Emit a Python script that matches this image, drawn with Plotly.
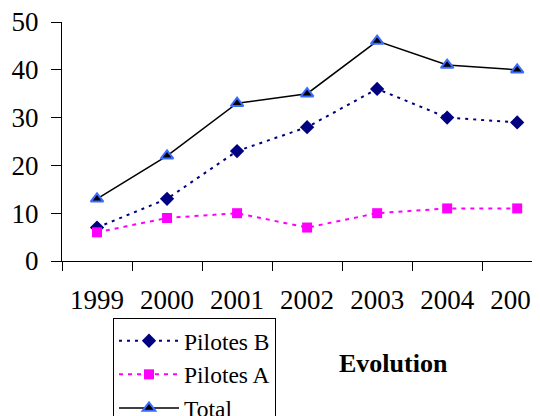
import plotly.graph_objects as go

years = ["1999", "2000", "2001", "2002", "2003", "2004", "2005"]
pilotes_b = [7, 13, 23, 28, 36, 30, 29]
pilotes_a = [6, 9, 10, 7, 10, 11, 11]
total = [13, 22, 33, 35, 46, 41, 40]

FONT = "Liberation Serif"

# page has an 8px body margin: plot area targets page x 62..548, y 22..261
PW = 486.0
PH = 239.0

fig = go.Figure()
fig.add_trace(go.Scatter(
    x=years, y=pilotes_b, name="Pilotes B", mode="lines+markers",
    line=dict(color="#000080", width=2, dash="3px,5px"),
    marker=dict(symbol="diamond", size=11, color="#000080"),
))
fig.add_trace(go.Scatter(
    x=years, y=pilotes_a, name="Pilotes A", mode="lines+markers",
    line=dict(color="#FF00FF", width=2, dash="4px,5px"),
    marker=dict(symbol="square", size=10, color="#FF00FF"),
))
fig.add_trace(go.Scatter(
    x=years, y=total, name="Total", mode="lines+markers",
    line=dict(color="#000000", width=1.5),
    marker=dict(symbol="triangle-up", size=11, color="#000000",
                line=dict(color="#3A6BFF", width=2)),
))

fig.update_layout(
    width=540, height=416,
    margin=dict(l=54, r=0, t=14, b=163, autoexpand=False),
    paper_bgcolor="white", plot_bgcolor="white",
    font=dict(family=FONT, color="black", size=26),
    showlegend=True,
    legend=dict(
        x=(113 - 62) / PW, y=(261 - 318) / PH, xanchor="left", yanchor="top",
        bordercolor="black", borderwidth=1,
        font=dict(family=FONT, size=23.5, color="black"),
        tracegroupgap=0, itemwidth=60,
    ),
    xaxis=dict(
        type="category", range=[-0.5, 6.44],
        showline=True, linecolor="black", linewidth=1,
        ticks="outside", tickson="boundaries", ticklen=9, tickcolor="black",
        showgrid=False, zeroline=False, tickangle=0,
        tickfont=dict(family=FONT, size=27),
        ticklabelstandoff=15, ticklabeloverflow="allow",
    ),
    yaxis=dict(
        range=[0, 50], tickvals=[0, 10, 20, 30, 40, 50],
        showline=True, linecolor="black", linewidth=1,
        ticks="outside", ticklen=10, tickcolor="black",
        showgrid=False, zeroline=False,
        tickfont=dict(family=FONT, size=27),
        ticklabelstandoff=7, ticklabeloverflow="allow",
    ),
    annotations=[dict(
        text="<b>Evolution</b>", x=(393 - 62) / PW, y=(261 - 363) / PH,
        xref="paper", yref="paper", xanchor="center", yanchor="middle",
        showarrow=False, font=dict(family=FONT, size=26, color="black"),
    )],
)

fig.write_html("out.html")
